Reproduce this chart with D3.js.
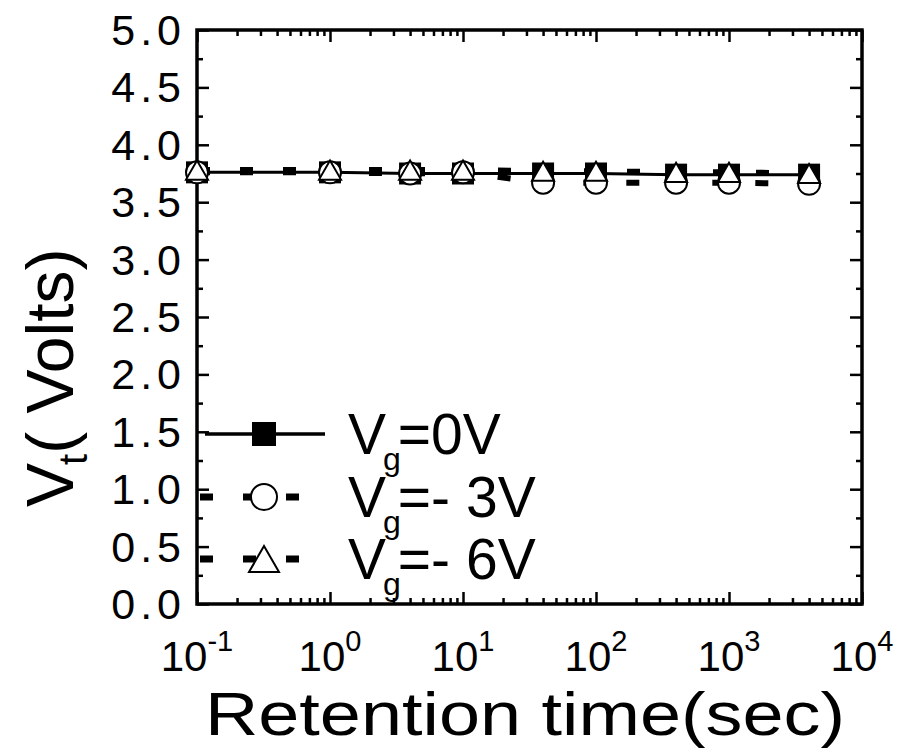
<!DOCTYPE html>
<html><head><meta charset="utf-8">
<script src="https://cdn.jsdelivr.net/npm/d3@7"></script>
<style>body{margin:0;background:#fff}svg{display:block}text{font-family:"Liberation Sans",Arial,sans-serif;fill:#000}</style>
</head><body>
<script>
const times = [0.1, 1, 4, 10, 40, 100, 400, 1000, 4000];
const vt0 = [3.76, 3.76, 3.75, 3.75, 3.75, 3.75, 3.74, 3.74, 3.74];
const vt3 = [3.76, 3.76, 3.75, 3.76, 3.67, 3.67, 3.67, 3.67, 3.66];
const vt6 = [3.78, 3.78, 3.78, 3.78, 3.77, 3.77, 3.76, 3.76, 3.75];
const seriesNames = ["=0V", "=- 3V", "=- 6V"];
const yTicks = [0, 0.5, 1, 1.5, 2, 2.5, 3, 3.5, 4, 4.5, 5];
const xExps = [-1, 0, 1, 2, 3, 4];

const W = 902, H = 752;
const L = 197, R = 862, T = 30, B = 604;
const svg = d3.select("body").append("svg").attr("width", W).attr("height", H);
const x = d3.scaleLog().domain([0.1, 10000]).range([L, R]);
const y = d3.scaleLinear().domain([0, 5]).range([B, T]);

const xMinor = [];
for (let e = -1; e < 4; e++) for (let k = 2; k <= 9; k++) xMinor.push(k * Math.pow(10, e));
const yMinor = d3.range(0.25, 5, 0.5);

function axisG(axis, tx, ty) {
  const g = svg.append("g").attr("transform", `translate(${tx},${ty})`).call(axis);
  g.select(".domain").remove();
  g.selectAll("line").attr("stroke", "#000").attr("stroke-width", 2.5);
  g.selectAll("text").remove();
  return g;
}
const xMajVals = xExps.map(e => Math.pow(10, e));
axisG(d3.axisBottom(x).tickValues(xMajVals).tickSize(-12), 0, B);
axisG(d3.axisBottom(x).tickValues(xMinor).tickSize(-6), 0, B);
axisG(d3.axisTop(x).tickValues(xMajVals).tickSize(-12), 0, T);
axisG(d3.axisTop(x).tickValues(xMinor).tickSize(-6), 0, T);
axisG(d3.axisLeft(y).tickValues(yTicks).tickSize(-12), L, 0);
axisG(d3.axisLeft(y).tickValues(yMinor).tickSize(-6), L, 0);
axisG(d3.axisRight(y).tickValues(yTicks).tickSize(-12), R, 0);
axisG(d3.axisRight(y).tickValues(yMinor).tickSize(-6), R, 0);

svg.append("rect").attr("x", L).attr("y", T).attr("width", R - L).attr("height", B - T)
  .attr("fill", "none").attr("stroke", "#000").attr("stroke-width", 3.5);

svg.append("g").selectAll("text").data(yTicks).join("text")
  .attr("x", 186).attr("y", d => y(d) + 15)
  .attr("text-anchor", "end").attr("font-size", 43).attr("letter-spacing", 5)
  .text(d => d3.format(".1f")(d));

const xl = svg.append("g").selectAll("text").data(xExps).join("text")
  .attr("x", d => x(Math.pow(10, d))).attr("y", 671)
  .attr("text-anchor", "middle").attr("font-size", 42);
xl.append("tspan").text("10");
xl.append("tspan").attr("font-size", 29).attr("dy", -20).text(d => d);

svg.append("text").attr("x", 205).attr("y", 735).attr("font-size", 62)
  .attr("textLength", 640).attr("lengthAdjust", "spacingAndGlyphs")
  .text("Retention time(sec)");
const yt = svg.append("text").attr("transform", "translate(73,507) rotate(-90)")
  .attr("font-size", 66);
yt.append("tspan").text("V");
yt.append("tspan").attr("font-size", 40).attr("dy", 14).attr("dx", -2).text("t");
yt.append("tspan").attr("dy", -14).text("( Volts)");

const series = [
  {vals: vt0, dash: null, sw: 3, sym: "square"},
  {vals: vt3, dash: "13,30", sw: 6, sym: "circle"},
  {vals: vt6, dash: "13,30", sw: 6, sym: "triangle"}
];
const line = d3.line().x(d => x(d[0])).y(d => y(d[1]));
series.forEach(s => {
  svg.append("path").datum(times.map((t, i) => [t, s.vals[i]]))
    .attr("d", line).attr("fill", "none").attr("stroke", "#000")
    .attr("stroke-width", s.sw).attr("stroke-dasharray", s.dash);
});
function marker(g, sym, cx, cy, size) {
  if (sym === "square") {
    g.append("rect").attr("x", cx - size / 2).attr("y", cy - size / 2)
      .attr("width", size).attr("height", size).attr("fill", "#000");
  } else if (sym === "circle") {
    g.append("circle").attr("cx", cx).attr("cy", cy).attr("r", size / 2)
      .attr("fill", "#fff").attr("stroke", "#000").attr("stroke-width", 2);
  } else {
    const h = size * 0.87;
    g.append("path").attr("d", `M${cx},${cy - h / 2}L${cx + size / 2},${cy + h / 2}L${cx - size / 2},${cy + h / 2}Z`)
      .attr("fill", "#fff").attr("stroke", "#000").attr("stroke-width", 2);
  }
}
series.forEach(s => {
  const g = svg.append("g");
  times.forEach((t, i) => marker(g, s.sym, x(t), y(s.vals[i]), 22));
});

const legY = [434, 497, 559];
series.forEach((s, i) => {
  const g = svg.append("g");
  if (i === 0) {
    g.append("line").attr("x1", 205).attr("x2", 325).attr("y1", legY[i]).attr("y2", legY[i])
      .attr("stroke", "#000").attr("stroke-width", 3.5);
  } else {
    g.append("line").attr("x1", 200).attr("x2", 300).attr("y1", legY[i]).attr("y2", legY[i])
      .attr("stroke", "#000").attr("stroke-width", 7).attr("stroke-dasharray", "13,30");
  }
  marker(g, s.sym, 264, legY[i], i === 0 ? 24 : (i === 1 ? 26 : 30));
  const t = g.append("text").attr("x", 348).attr("y", legY[i] + 20).attr("font-size", 57);
  t.append("tspan").text("V");
  t.append("tspan").attr("font-size", 32).attr("dx", -3).attr("dy", 16).text("g");
  t.append("tspan").attr("dx", -3).attr("dy", -16).text(seriesNames[i]);
});
</script>
</body></html>
